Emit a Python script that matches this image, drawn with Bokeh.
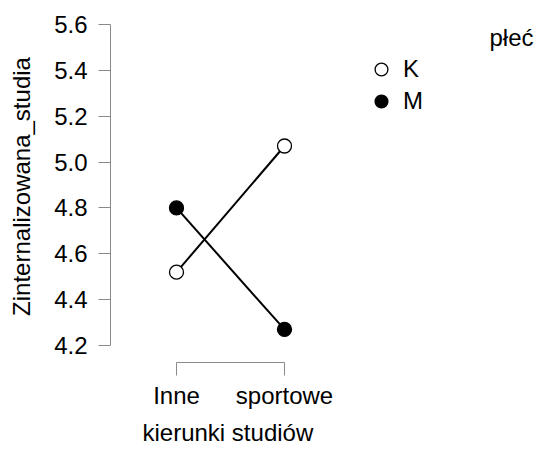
from bokeh.plotting import figure
from bokeh.models import Range1d, FixedTicker, Legend, LegendItem, Label, Title
from bokeh.embed import file_html
from bokeh.resources import INLINE

# Mean of "Zinternalizowana_studia" by field of study and sex
kierunki = ["Inne", "sportowe"]
x_pos = [1, 2]
srednie_K = [4.52, 5.07]
srednie_M = [4.80, 4.27]
y_ticks = [4.2, 4.4, 4.6, 4.8, 5.0, 5.2, 5.4, 5.6]

FONT = "Liberation Sans"
FS = "24px"
AXIS_GRAY = "#8a8a8a"

W, H = 537, 450
LEFT, RIGHT, TOP, BOTTOM = 110, 537, 10, 362   # frame edges in pixels
PX_X = 108.0                                   # pixels per category step
PX_Y = 321.0 / 1.4                             # pixels per unit on y

x0 = 1 - (176 - LEFT) / PX_X
x1 = x0 + (RIGHT - LEFT) / PX_X
y0 = 4.2 - (BOTTOM - 345) / PX_Y
y1 = y0 + (BOTTOM - TOP) / PX_Y


def data_x(px):
    return x0 + (px - LEFT) / PX_X


def data_y(py):
    return y0 + (BOTTOM - py) / PX_Y


p = figure(width=W, height=H, output_backend="svg", toolbar_location=None,
           x_range=Range1d(x0, x1), y_range=Range1d(y0, y1),
           min_border_left=LEFT, min_border_right=W - RIGHT,
           min_border_top=TOP, min_border_bottom=H - BOTTOM)
p.outline_line_color = None
p.xgrid.visible = False
p.ygrid.visible = False
p.background_fill_color = "white"
p.border_fill_color = "white"

for ax in (p.xaxis[0], p.yaxis[0]):
    ax.axis_line_color = AXIS_GRAY
    ax.major_tick_line_color = AXIS_GRAY
    ax.minor_tick_line_color = None
    ax.major_tick_in = 0
    ax.major_tick_out = 12
    ax.major_label_text_font = FONT
    ax.major_label_text_font_size = FS
    ax.major_label_text_color = "black"
    ax.axis_label_text_font = FONT
    ax.axis_label_text_font_size = FS
    ax.axis_label_text_font_style = "normal"
    ax.axis_label_text_color = "black"

p.yaxis.ticker = FixedTicker(ticks=y_ticks)
p.yaxis.major_label_overrides = {t: f"{t:.1f}" for t in y_ticks}
p.yaxis.bounds = (y_ticks[0], y_ticks[-1])
p.yaxis.major_label_standoff = 11
p.yaxis.axis_label = "Zinternalizowana_studia"
p.yaxis.axis_label_standoff = 16

p.xaxis.ticker = FixedTicker(ticks=x_pos)
p.xaxis.major_label_overrides = dict(zip(x_pos, kierunki))
p.xaxis.bounds = (x_pos[0], x_pos[-1])
p.xaxis.major_tick_out = 13
p.xaxis.major_label_standoff = 6

# x-axis title, shifted under the two categories
p.add_layout(Title(text="kierunki studiów", align="left", offset=32,
                   text_font=FONT, text_font_size=FS, text_font_style="normal",
                   text_color="black", standoff=10), "below")

# interaction lines
p.line(x_pos, srednie_K, line_color="black", line_width=2)
p.line(x_pos, srednie_M, line_color="black", line_width=2)
rK = p.scatter(x_pos, srednie_K, size=14, marker="circle",
               fill_color="white", line_color="black", line_width=1.3)
rM = p.scatter(x_pos, srednie_M, size=14, marker="circle",
               fill_color="black", line_color="black", line_width=1.3)

legend = Legend(items=[LegendItem(label="K", renderers=[rK]),
                       LegendItem(label="M", renderers=[rM])],
                location=(365 - LEFT, BOTTOM - 117),
                label_text_font=FONT, label_text_font_size=FS,
                label_text_color="black",
                glyph_width=32, glyph_height=32, label_height=32, spacing=0,
                padding=0, margin=0, border_line_color=None,
                background_fill_alpha=0, label_standoff=6)
p.add_layout(legend)

# legend title, far right
p.add_layout(Label(x=data_x(489), y=data_y(37), text="płeć",
                   text_font=FONT, text_font_size=FS, text_color="black",
                   text_baseline="alphabetic", text_align="left"))

open("out.html", "w").write(file_html(p, INLINE))
